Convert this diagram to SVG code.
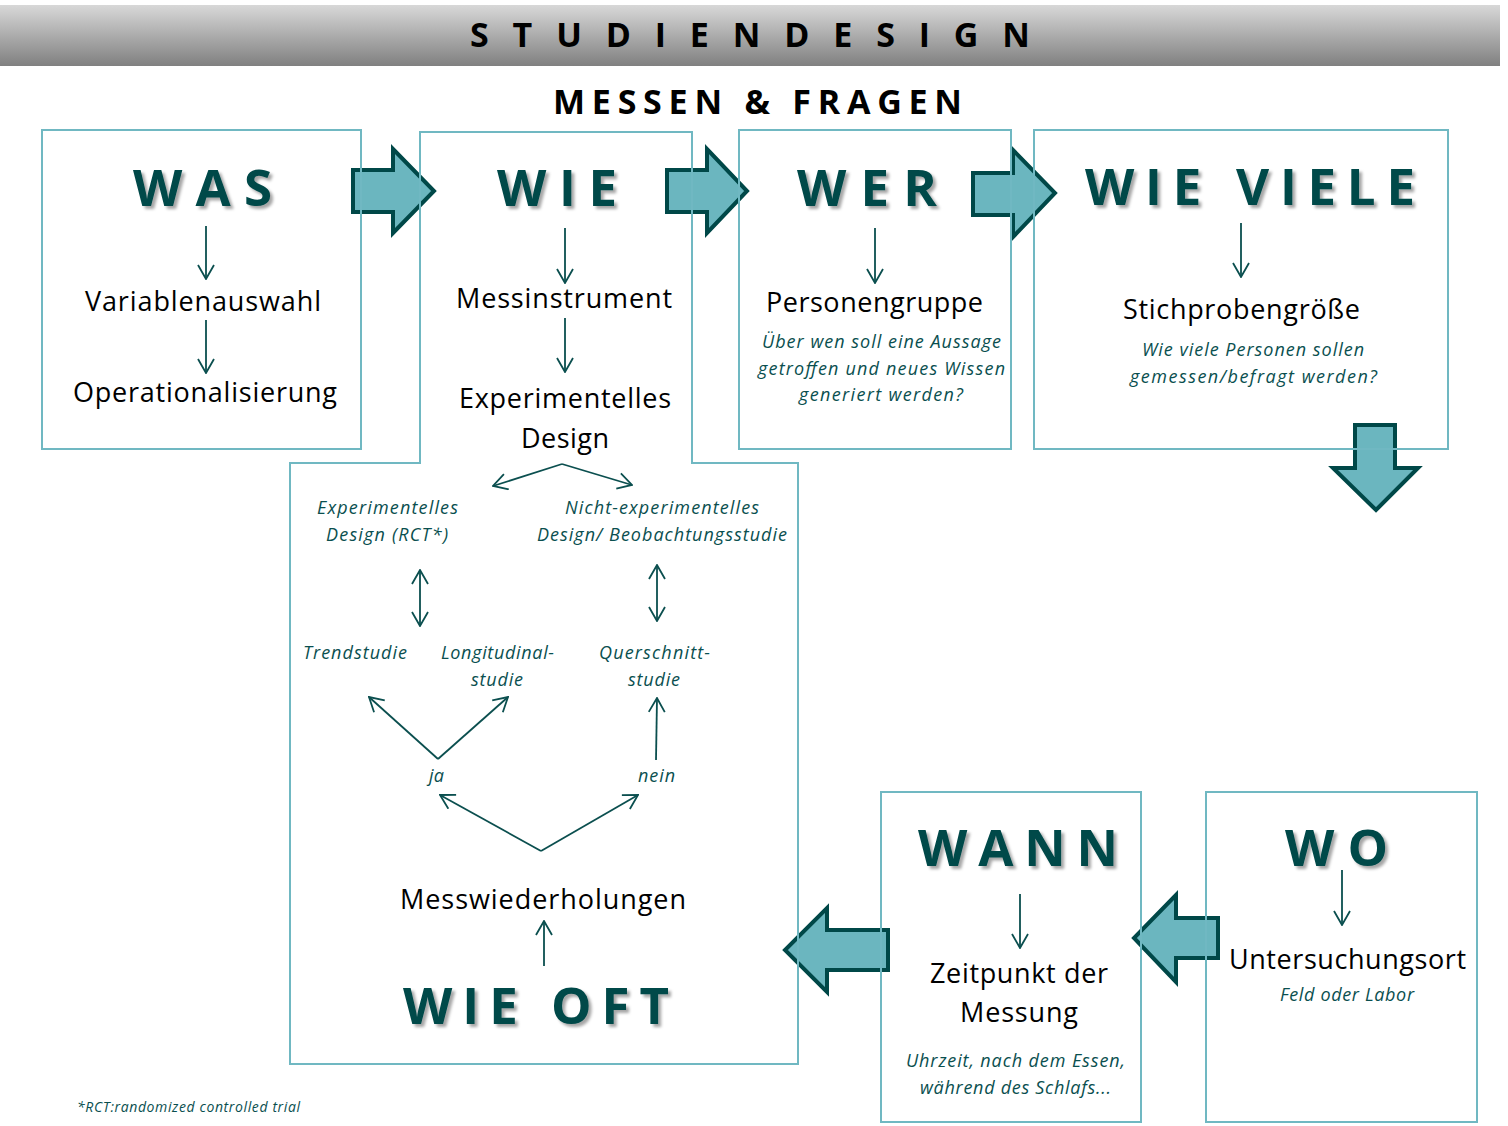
<svg xmlns="http://www.w3.org/2000/svg" width="1508" height="1126" viewBox="0 0 1508 1126">
  <defs>
    <linearGradient id="barGrad" x1="0" y1="0" x2="0" y2="1">
      <stop offset="0" stop-color="#d8d8d8"/>
      <stop offset="1" stop-color="#808080"/>
    </linearGradient>
    <filter id="shadow" x="-10%" y="-20%" width="130%" height="150%">
      <feDropShadow dx="3" dy="3" stdDeviation="1.8" flood-color="#000" flood-opacity="0.35"/>
    </filter>
    <marker id="head" viewBox="0 0 16 18" refX="15" refY="9" markerWidth="16" markerHeight="18" markerUnits="userSpaceOnUse" orient="auto-start-reverse">
      <path d="M1,1 L15,9 L1,17" fill="none" stroke="#0b4f4f" stroke-width="1.8"/>
    </marker>
    <style>
      .box { fill: none; stroke: #70b8c2; stroke-width: 2; }
      .block { fill: #6bb6bf; stroke: #004848; stroke-width: 4; stroke-linejoin: miter; }
      .thin { fill: none; stroke: #0b4f4f; stroke-width: 1.8; marker-end: url(#head); }
      .both { marker-start: url(#head); }
      .title { font-family: "Open Sans", "Liberation Sans", sans-serif; font-weight: bold; font-size: 51px; fill: #004848; filter: url(#shadow); }
      .head { font-family: "Open Sans", "Liberation Sans", sans-serif; font-weight: bold; font-size: 34px; fill: #000; }
      .lbl { font-family: "Open Sans", "Liberation Sans", sans-serif; font-size: 27px; fill: #000; }
      .it { font-family: "Open Sans", "Liberation Sans", sans-serif; font-style: italic; font-size: 18px; fill: #0a4f4f; }
      .note { font-family: "Open Sans", "Liberation Sans", sans-serif; font-style: italic; font-size: 14px; fill: #0a4f4f; }
    </style>
  </defs>

  <rect width="1508" height="1126" fill="#fff"/>

  <!-- title bar -->
  <g id="header">
    <rect x="0" y="5" width="1500" height="61" fill="url(#barGrad)"/>
    <text class="head" x="470" y="47" textLength="560">STUDIENDESIGN</text>
    <text class="head" x="553" y="114" textLength="409">MESSEN &amp; FRAGEN</text>
  </g>

  <!-- arrows between and inside the boxes -->
  <g id="connectors">
    <polygon class="block" points="353,170 393,170 393,149 434,191 393,233 393,212 353,212"/>
    <polygon class="block" points="667,170 707,170 707,149 747,191 707,233 707,212 667,212"/>
    <polygon class="block" points="973,173 1013,173 1013,150 1055,193 1013,237 1013,215 973,215"/>
    <polygon class="block" points="1355,425 1395,425 1395,468 1418,468 1376,510 1333,468 1355,468"/>
    <polygon class="block" points="888,930 827,930 827,908 785,950 827,992 827,970 888,970"/>
    <polygon class="block" points="1218,918 1176,918 1176,895 1134,938 1176,982 1176,958 1218,958"/>

    <line class="thin" x1="206" y1="226" x2="206" y2="279"/>
    <line class="thin" x1="206" y1="320" x2="206" y2="373"/>
    <line class="thin" x1="565" y1="228" x2="565" y2="283"/>
    <line class="thin" x1="565" y1="318" x2="565" y2="372"/>
    <line class="thin" x1="875" y1="228" x2="875" y2="283"/>
    <line class="thin" x1="1241" y1="223" x2="1241" y2="277"/>
    <line class="thin" x1="1020" y1="894" x2="1020" y2="948"/>
    <line class="thin" x1="1342" y1="870" x2="1342" y2="925"/>

    <line class="thin" x1="562" y1="464" x2="493" y2="486"/>
    <line class="thin" x1="562" y1="464" x2="632" y2="485"/>
    <line class="thin both" x1="420" y1="570" x2="420" y2="626"/>
    <line class="thin both" x1="657" y1="565" x2="657" y2="621"/>
    <line class="thin" x1="438" y1="759" x2="369" y2="697"/>
    <line class="thin" x1="438" y1="759" x2="508" y2="697"/>
    <line class="thin" x1="656" y1="760" x2="657" y2="698"/>
    <line class="thin" x1="541" y1="851" x2="440" y2="795"/>
    <line class="thin" x1="541" y1="851" x2="638" y2="795"/>
    <line class="thin" x1="544" y1="966" x2="544" y2="921"/>
  </g>

  <g id="was">
    <rect class="box" x="42" y="130" width="319" height="319"/>
    <text class="title" x="133" y="206" textLength="139">WAS</text>
    <text class="lbl" x="85" y="311" textLength="236">Variablenauswahl</text>
    <text class="lbl" x="73" y="402" textLength="264">Operationalisierung</text>
  </g>

  <g id="wie">
    <polygon class="box" points="420,132 692,132 692,463 798,463 798,1064 290,1064 290,463 420,463"/>
    <text class="title" x="497" y="206" textLength="120">WIE</text>
    <text class="lbl" x="456" y="308" textLength="216">Messinstrument</text>
    <text class="lbl" x="459" y="408" textLength="212">Experimentelles</text>
    <text class="lbl" x="521" y="448" textLength="88">Design</text>
    <text class="it" x="317" y="514" textLength="141">Experimentelles</text>
    <text class="it" x="326" y="541" textLength="122">Design (RCT*)</text>
    <text class="it" x="565" y="514" textLength="194">Nicht-experimentelles</text>
    <text class="it" x="537" y="541" textLength="250">Design/ Beobachtungsstudie</text>
    <text class="it" x="303" y="659" textLength="104">Trendstudie</text>
    <text class="it" x="441" y="659" textLength="113">Longitudinal-</text>
    <text class="it" x="471" y="686" textLength="52">studie</text>
    <text class="it" x="599" y="659" textLength="111">Querschnitt-</text>
    <text class="it" x="628" y="686" textLength="52">studie</text>
    <text class="it" x="429" y="782" textLength="15">ja</text>
    <text class="it" x="638" y="782" textLength="37">nein</text>
    <text class="lbl" x="400" y="909" textLength="286">Messwiederholungen</text>
    <text class="title" x="403" y="1024" textLength="266">WIE OFT</text>
  </g>

  <g id="wer">
    <rect class="box" x="739" y="130" width="272" height="319"/>
    <text class="title" x="797" y="206" textLength="140">WER</text>
    <text class="lbl" x="766" y="312" textLength="217">Personengruppe</text>
    <text class="it" x="762" y="348" textLength="239">Über wen soll eine Aussage</text>
    <text class="it" x="758" y="375" textLength="247">getroffen und neues Wissen</text>
    <text class="it" x="799" y="401" textLength="164">generiert werden?</text>
  </g>

  <g id="wie-viele">
    <rect class="box" x="1034" y="130" width="414" height="319"/>
    <text class="title" x="1085" y="205" textLength="330">WIE VIELE</text>
    <text class="lbl" x="1123" y="319" textLength="237">Stichprobengröße</text>
    <text class="it" x="1142" y="356" textLength="222">Wie viele Personen sollen</text>
    <text class="it" x="1130" y="383" textLength="247">gemessen/befragt werden?</text>
  </g>

  <g id="wann">
    <rect class="box" x="881" y="792" width="260" height="330"/>
    <text class="title" x="918" y="866" textLength="200">WANN</text>
    <text class="lbl" x="930" y="983" textLength="178">Zeitpunkt der</text>
    <text class="lbl" x="960" y="1022" textLength="118">Messung</text>
    <text class="it" x="906" y="1067" textLength="219">Uhrzeit, nach dem Essen,</text>
    <text class="it" x="920" y="1094" textLength="191">während des Schlafs...</text>
  </g>

  <g id="wo">
    <rect class="box" x="1206" y="792" width="271" height="330"/>
    <text class="title" x="1285" y="866" textLength="103">WO</text>
    <text class="lbl" x="1229" y="969" textLength="237">Untersuchungsort</text>
    <text class="it" x="1280" y="1001" textLength="134">Feld oder Labor</text>
  </g>

  <g id="footnote">
    <text class="note" x="77" y="1112" textLength="223">*RCT:randomized controlled trial</text>
  </g>
</svg>
